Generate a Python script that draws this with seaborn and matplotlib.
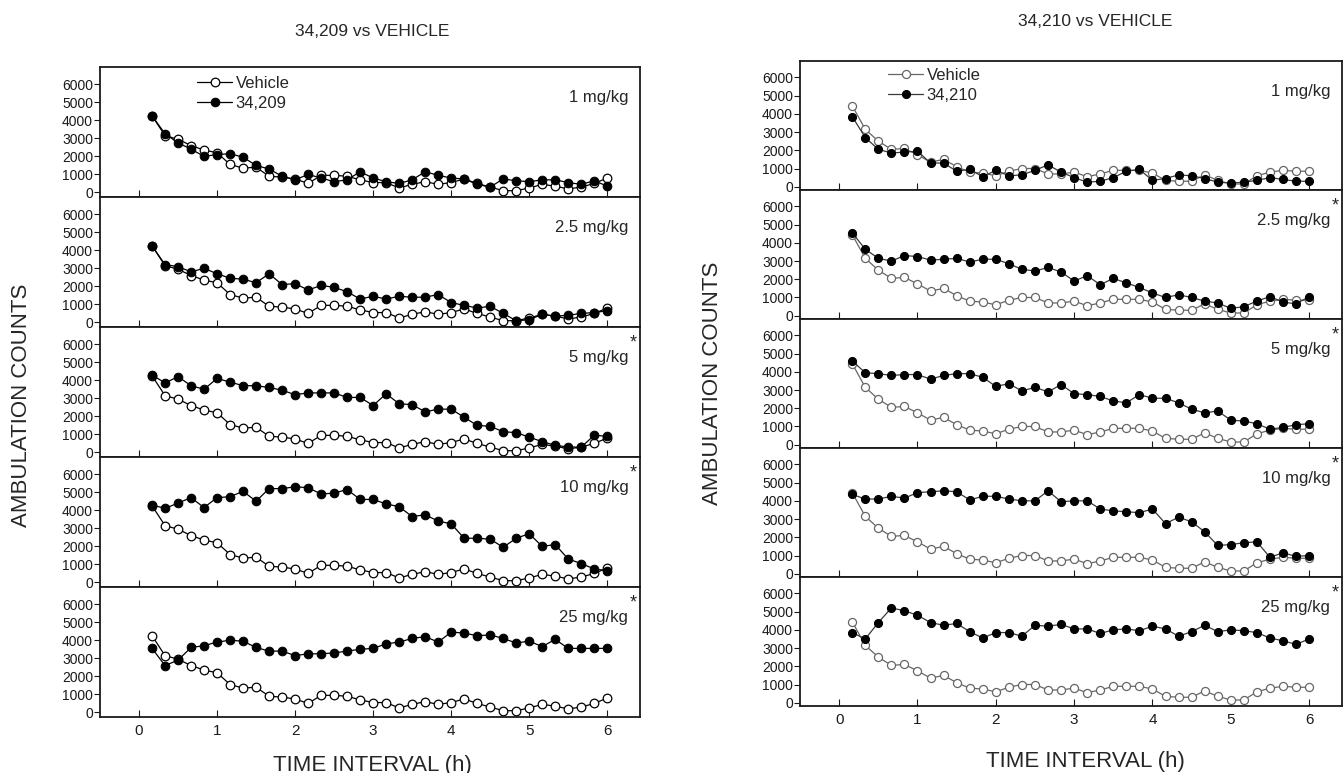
# Ambulation counts over time: 34,209 and 34,210 vs vehicle, five doses each

import numpy as np
import pandas as pd
import matplotlib.pyplot as plt
import seaborn as sns

sns.set_theme(style='ticks')
plt.rcParams['font.family'] = ['Liberation Sans', 'DejaVu Sans']

# ─── data (10-min bins, 0-6 h) ───
time_h = np.arange(1, 37) / 6

doses = ['1 mg/kg', '2.5 mg/kg', '5 mg/kg', '10 mg/kg', '25 mg/kg']
star_209 = [False, False, True, True, True]
star_210 = [False, True, True, True, True]

vehicle_209 = [4250, 3150, 2950, 2600, 2350, 2200, 1550, 1350, 1400, 900, 850, 750,
               500, 950, 950, 900, 700, 550, 550, 250, 450, 600, 450, 550,
               750, 500, 300, 100, 100, 250, 450, 350, 200, 300, 500, 800]

drug_209_1 = [4250, 3250, 2750, 2400, 2000, 2100, 2150, 1950, 1500, 1300, 900, 700,
              1000, 800, 600, 700, 1150, 800, 600, 500, 700, 1150, 950, 800,
              750, 450, 300, 750, 650, 600, 700, 700, 550, 450, 650, 350]
drug_209_2 = [4250, 3200, 3100, 2800, 3000, 2700, 2450, 2400, 2200, 2700, 2100, 2150,
              1800, 2050, 1950, 1700, 1300, 1450, 1300, 1450, 1400, 1400, 1550, 1100,
              950, 800, 900, 500, 100, 150, 450, 350, 400, 500, 550, 650]
drug_209_5 = [4300, 3850, 4200, 3700, 3500, 4100, 3900, 3700, 3700, 3600, 3450, 3200,
              3300, 3300, 3300, 3050, 3050, 2600, 3250, 2700, 2650, 2250, 2400, 2400,
              1950, 1500, 1450, 1150, 1100, 850, 600, 400, 300, 300, 950, 900]
drug_209_10 = [4300, 4100, 4400, 4700, 4150, 4700, 4750, 5050, 4500, 5200, 5200, 5300,
               5250, 4900, 4950, 5150, 4600, 4600, 4350, 4200, 3650, 3750, 3400, 3250,
               2450, 2450, 2400, 1950, 2450, 2700, 2000, 2100, 1300, 1050, 750, 650]
drug_209_25 = [3550, 2600, 2900, 3600, 3700, 3900, 4000, 3950, 3600, 3400, 3400, 3150,
               3250, 3250, 3300, 3400, 3500, 3550, 3800, 3900, 4100, 4200, 3900, 4450,
               4400, 4250, 4300, 4100, 3850, 3950, 3650, 4050, 3550, 3550, 3550, 3550]

vehicle_210 = [4450, 3150, 2500, 2050, 2100, 1750, 1350, 1500, 1100, 800, 750, 600,
               850, 1000, 1000, 700, 700, 800, 550, 700, 900, 900, 900, 750,
               350, 300, 300, 650, 350, 150, 150, 600, 800, 900, 850, 850]

drug_210_1 = [3850, 2700, 2050, 1850, 1900, 1950, 1300, 1300, 850, 950, 550, 900,
              600, 650, 900, 1200, 800, 500, 250, 300, 500, 850, 950, 350,
              450, 650, 600, 450, 250, 200, 250, 350, 500, 400, 300, 300]
drug_210_2 = [4550, 3650, 3150, 3000, 3300, 3250, 3050, 3100, 3150, 2950, 3100, 3100,
              2850, 2550, 2450, 2650, 2400, 1900, 2200, 1700, 2050, 1800, 1550, 1250,
              1000, 1150, 1000, 800, 700, 400, 500, 800, 1050, 750, 650, 1050]
drug_210_5 = [4600, 3950, 3900, 3800, 3850, 3850, 3600, 3800, 3900, 3900, 3700, 3200,
              3350, 2950, 3150, 2900, 3300, 2800, 2750, 2650, 2400, 2300, 2750, 2550,
              2550, 2300, 1950, 1750, 1850, 1350, 1300, 1150, 850, 950, 1100, 1150]
drug_210_10 = [4350, 4100, 4100, 4250, 4150, 4450, 4500, 4550, 4500, 4050, 4250, 4250,
               4100, 4000, 4000, 4550, 3950, 4000, 4000, 3550, 3450, 3400, 3350, 3550,
               2750, 3100, 2850, 2300, 1550, 1600, 1700, 1750, 900, 1150, 950, 1000]
drug_210_25 = [3850, 3500, 4400, 5200, 5050, 4800, 4400, 4250, 4350, 3900, 3550, 3850,
               3850, 3650, 4250, 4200, 4300, 4050, 4050, 3800, 4000, 4050, 3950, 4200,
               4050, 3650, 3900, 4250, 3900, 4000, 3950, 3850, 3550, 3400, 3200, 3500]

drug_209 = [drug_209_1, drug_209_2, drug_209_5, drug_209_10, drug_209_25]
drug_210 = [drug_210_1, drug_210_2, drug_210_5, drug_210_10, drug_210_25]

W, H = 1344, 773
fig = plt.figure(figsize=(W / 100, H / 100), dpi=100)


def draw_column(left_px, right_px, top_px, bottom_px, name, vehicle, drugs, stars,
                veh_col, drug_line, ylim, msize, leg_x, leg_y):
    panel_h = (bottom_px - top_px) / 5
    axes = []
    for i in range(5):
        y0 = bottom_px - (5 - i - 1) * panel_h
        ax = fig.add_axes([left_px / W, 1 - y0 / H, (right_px - left_px) / W, panel_h / H])
        df = pd.DataFrame({'time': time_h, 'Vehicle': vehicle, name: drugs[i]})
        sns.lineplot(data=df, x='time', y='Vehicle', ax=ax, color=veh_col, lw=0.9,
                     marker='o', markersize=msize, markerfacecolor='white',
                     markeredgecolor=veh_col, markeredgewidth=0.9, label='Vehicle')
        sns.lineplot(data=df, x='time', y=name, ax=ax, color=drug_line, lw=0.9,
                     marker='o', markersize=msize, markerfacecolor='black',
                     markeredgecolor='black', label=name)
        ax.set_xlim(-0.5, 6.42)
        ax.set_ylim(*ylim)
        ax.set_yticks(range(0, 7000, 1000))
        ax.set_xticks(range(7))
        ax.set_xlabel('')
        ax.set_ylabel('')
        ax.tick_params(axis='y', direction='out', length=4, width=0.8, pad=1,
                       labelsize=10, colors='#1a1a1a')
        ax.tick_params(axis='x', direction='in', length=5, width=0.8, pad=5,
                       labelsize=11, colors='#1a1a1a')
        if i < 4:
            ax.tick_params(axis='x', labelbottom=False)
        for sp in ax.spines.values():
            sp.set_linewidth(1.3)
            sp.set_color('#1a1a1a')
        ax.text(6.27, 5250, doses[i], ha='right', va='center', fontsize=12)
        if stars[i]:
            ax.text(6.29, 6050, '*', ha='left', va='center', fontsize=13)
        if i == 0:
            ax.legend(loc='upper left', bbox_to_anchor=(leg_x, leg_y), frameon=False,
                      fontsize=12, handlelength=2.1, handletextpad=0.2,
                      labelspacing=0.3, borderpad=0, borderaxespad=0)
        else:
            ax.get_legend().remove()
        axes.append(ax)
    return axes


draw_column(100, 640, 67, 717, '34,209', vehicle_209, drug_209, star_209,
            'black', 'black', (-250, 6950), 6.2, 0.18, 0.93)
draw_column(800, 1342, 61, 706, '34,210', vehicle_210, drug_210, star_210,
            '#666666', '#3a3a3a', (-180, 6900), 5.8, 0.163, 0.945)

fig.text(372 / W, 1 - 32 / H, '34,209 vs VEHICLE', ha='center', va='center', fontsize=12.5)
fig.text(1095 / W, 1 - 22 / H, '34,210 vs VEHICLE', ha='center', va='center', fontsize=12.5)
fig.text(372 / W, 1 - 765 / H, 'TIME INTERVAL (h)', ha='center', va='center', fontsize=16)
fig.text(1085 / W, 1 - 762 / H, 'TIME INTERVAL (h)', ha='center', va='center', fontsize=16)
fig.text(22 / W, 1 - 405 / H, 'AMBULATION COUNTS', ha='center', va='center',
         rotation=90, fontsize=16)
fig.text(712 / W, 1 - 383 / H, 'AMBULATION COUNTS', ha='center', va='center',
         rotation=90, fontsize=16)

fig.savefig('out.png', dpi=100)
print("Saved: out.png")
